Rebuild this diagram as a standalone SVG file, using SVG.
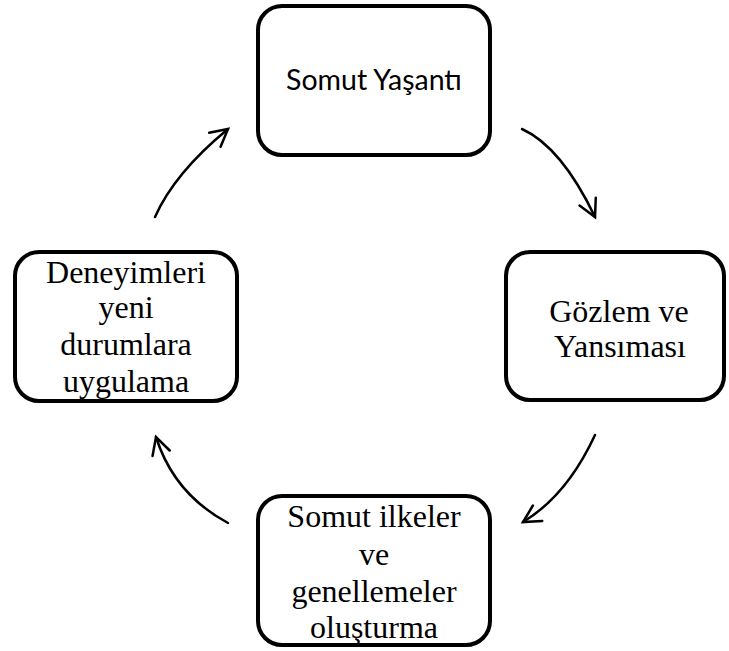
<svg xmlns="http://www.w3.org/2000/svg" width="729" height="651" viewBox="0 0 729 651">
<style>
.box{fill:#fff;stroke:#000;stroke-width:4}
.sans{font-family:Lato,"Open Sans","Liberation Sans",sans-serif;font-size:28.5px;fill:#000;text-anchor:middle}
.serif{font-family:"Liberation Serif","Times New Roman",serif;font-size:32px;fill:#000;text-anchor:middle}
.arr{fill:none;stroke:#000;stroke-width:2.5;stroke-linecap:round}
</style>
<defs>
<marker id="head" markerUnits="userSpaceOnUse" markerWidth="40" markerHeight="40" refX="0" refY="0" viewBox="-20 -20 40 40" orient="auto" overflow="visible">
<path d="M-17,-9 L0,0 L-17,9" fill="none" stroke="#000" stroke-width="2.5" stroke-linecap="round" stroke-linejoin="miter"/>
</marker>
</defs>
<rect width="729" height="651" fill="#fff"/>
<g id="connectors">
<path class="arr" d="M155,217 Q174.5,173 228,129" marker-end="url(#head)"/>
<path class="arr" d="M522,129 Q561.5,147 595,217" marker-end="url(#head)"/>
<path class="arr" d="M595,435 Q567,495.5 523,522" marker-end="url(#head)"/>
<path class="arr" d="M228,523 Q174,494 156,437" marker-end="url(#head)"/>
</g>
<g id="node-somut-yasanti">
<rect class="box" x="258" y="6" width="232" height="149" rx="24"/>
<text class="sans" x="374" y="90">Somut Yaşantı</text>
</g>
<g id="node-gozlem">
<rect class="box" x="506" y="252" width="218" height="148" rx="24"/>
<text class="serif" x="619" y="322">Gözlem ve</text>
<text class="serif" x="620" y="357">Yansıması</text>
</g>
<g id="node-somut-ilkeler">
<rect class="box" x="258" y="496" width="232" height="149" rx="24"/>
<text class="serif" x="374" y="527">Somut ilkeler</text>
<text class="serif" x="374" y="565">ve</text>
<text class="serif" x="374" y="602">genellemeler</text>
<text class="serif" x="374" y="638">oluşturma</text>
</g>
<g id="node-deneyimleri">
<rect class="box" x="15" y="252" width="222" height="149" rx="24"/>
<text class="serif" x="126" y="283">Deneyimleri</text>
<text class="serif" x="126" y="318">yeni</text>
<text class="serif" x="126" y="355">durumlara</text>
<text class="serif" x="126" y="392">uygulama</text>
</g>
</svg>
